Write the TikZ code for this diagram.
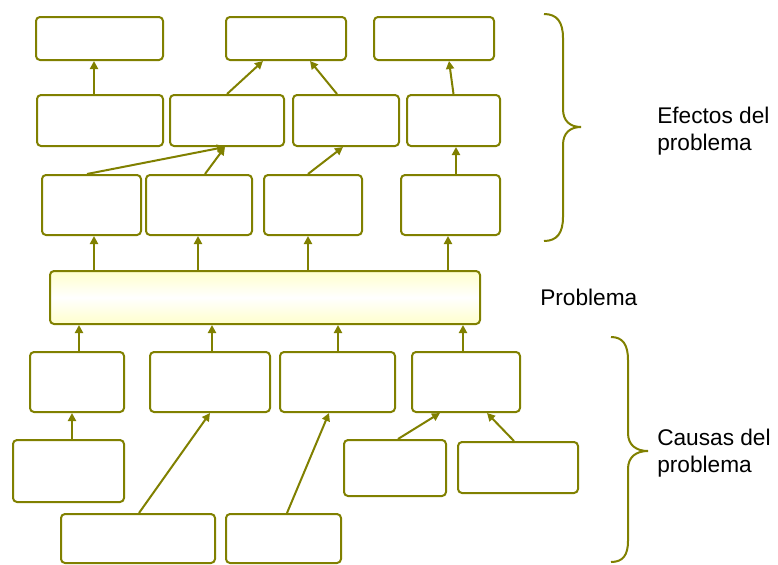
\documentclass[tikz,border=0pt]{standalone}
\usepackage{fontspec}
\setmainfont{Liberation Sans}
\usetikzlibrary{calc,arrows.meta}
\definecolor{oliva}{RGB}{128,128,0}

\begin{document}
\begin{tikzpicture}[x=0.75pt,y=-0.75pt,
	caja/.style 2 args={draw=oliva, line width=1.5pt, rounded corners=3pt, inner sep=0pt, minimum width=#1*0.75pt, minimum height=#2*0.75pt},
	flecha/.style={draw=oliva, line width=1.5pt, -{Triangle[length=6pt,width=6pt]}},
	llave/.style={draw=oliva, line width=1.5pt},
	rotulo/.style={font=\fontsize{17}{20.25}\selectfont, align=left, inner sep=0pt}]
	\useasboundingbox (0,0) rectangle (778,564);
	
	\node[caja={127}{43}] (e1) at (99.5,38.5) {};
	\node[caja={120}{43}] (e2) at (286,38.5) {};
	\node[caja={120}{43}] (e3) at (434,38.5) {};
	
	\node[caja={126}{51}] (m1) at (100,120.5) {};
	\node[caja={114}{51}] (m2) at (227,120.5) {};
	\node[caja={106}{51}] (m3) at (346,120.5) {};
	\node[caja={93}{51}] (m4) at (453.5,120.5) {};
	
	\node[caja={99}{60}] (l1) at (91.5,205) {};
	\node[caja={106}{60}] (l2) at (199,205) {};
	\node[caja={98}{60}] (l3) at (313,205) {};
	\node[caja={99}{60}] (l4) at (450.5,205) {};
	
	\node[caja={430}{53}, top color=yellow!20, bottom color=yellow!20, middle color=white] (p) at (265,297.5) {};
	
	\node[caja={94}{60}] (c1) at (77,382) {};
	\node[caja={120}{60}] (c2) at (210,382) {};
	\node[caja={115}{60}] (c3) at (337.5,382) {};
	\node[caja={108}{60}] (c4) at (466,382) {};
	
	\node[caja={111}{62}] (d1) at (68.5,471) {};
	\node[caja={102}{56}] (d2) at (395,468) {};
	\node[caja={120}{51}] (d3) at (518,467.5) {};
	
	\node[caja={154}{49}] (f1) at (138,538.5) {};
	\node[caja={115}{49}] (f2) at (283.5,538.5) {};
	
	\node[rotulo, anchor=west] (efectos) at (657,131) {Efectos del\\problema};
	\node[rotulo, anchor=base west] (problema) at (540,305) {Problema};
	\node[rotulo, anchor=west] (causas) at (657,453) {Causas del\\problema};
	
	\draw[flecha] ($(m1.north)+(-6,0)$) -- ($(e1.south)+(-5.5,0)$);
	\draw[flecha] (m2.north) -- ($(e2.south)+(-23,0)$);
	\draw[flecha] ($(m3.north)+(-9,0)$) -- ($(e2.south)+(24,0)$);
	\draw[flecha] (m4.north) -- ($(e3.south)+(15,0)$);
	
	\draw[flecha] ($(l1.north)+(-4.5,0)$) -- ($(m2.south)+(-2,0)$);
	\draw[flecha] ($(l2.north)+(6,0)$) -- ($(m2.south)+(-2,0)$);
	\draw[flecha] ($(l3.north)+(-5,0)$) -- ($(m3.south)+(-3,0)$);
	\draw[flecha] ($(l4.north)+(5.5,0)$) -- ($(m4.south)+(2.5,0)$);
	
	\draw[flecha] ($(p.north)+(-171,0)$) -- ($(l1.south)+(2.5,0)$);
	\draw[flecha] ($(p.north)+(-67,0)$) -- ($(l2.south)+(-1,0)$);
	\draw[flecha] ($(p.north)+(43,0)$) -- ($(l3.south)+(-5,0)$);
	\draw[flecha] ($(p.north)+(183,0)$) -- ($(l4.south)+(-2.5,0)$);
	
	\draw[flecha] ($(c1.north)+(2,0)$) -- ($(p.south)+(-186,0)$);
	\draw[flecha] ($(c2.north)+(2,0)$) -- ($(p.south)+(-53,0)$);
	\draw[flecha] ($(c3.north)+(0.5,0)$) -- ($(p.south)+(73,0)$);
	\draw[flecha] ($(c4.north)+(-3,0)$) -- ($(p.south)+(198,0)$);
	
	\draw[flecha] ($(d1.north)+(3.5,0)$) -- ($(c1.south)+(-5,0)$);
	\draw[flecha] ($(f1.north)+(1,0)$) -- (c2.south);
	\draw[flecha] ($(f2.north)+(3.5,0)$) -- ($(c3.south)+(-8.5,0)$);
	\draw[flecha] ($(d2.north)+(3,0)$) -- ($(c4.south)+(-26,0)$);
	\draw[flecha] ($(d3.north)+(-4,0)$) -- ($(c4.south)+(21,0)$);
	
	\draw[llave] (544,14) .. controls (557,14) and (563,22) .. (563,38) -- (563,109) .. controls (563,121) and (570,127) .. (581,127) .. controls (570,127) and (563,133) .. (563,145) -- (563,217) .. controls (563,233) and (557,241) .. (544,241);
	\draw[llave] (611,337) .. controls (623,337) and (628,345) .. (628,360) -- (628,433) .. controls (628,445) and (636,451) .. (648,451) .. controls (636,451) and (628,457) .. (628,469) -- (628,541) .. controls (628,555) and (623,562) .. (611,562);
\end{tikzpicture}
\end{document}
